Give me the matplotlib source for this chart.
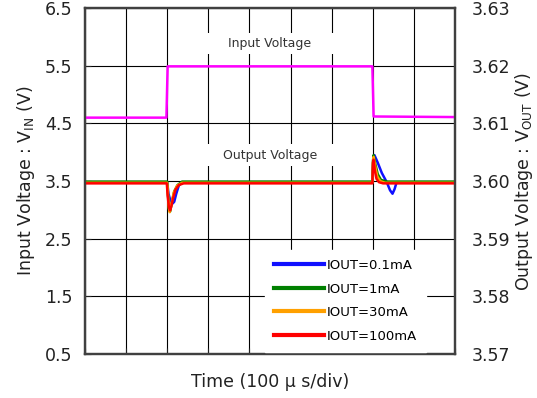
import matplotlib
matplotlib.use("Agg")
import matplotlib.pyplot as plt
from matplotlib.ticker import FormatStrFormatter

# time axis in microseconds (100 us/div, 9 divisions)
vin_t = [0, 198, 201, 699, 702, 900]
vin_v = [4.60, 4.60, 5.49, 5.49, 4.62, 4.61]

# output voltage traces (V), one per load current
blue_t = [0, 200, 203, 207, 213, 217, 222, 228, 236,
          699, 701, 704, 712, 722, 734, 742, 748, 753, 758, 900]
blue_v = [3.5998, 3.5998, 3.5978, 3.5968, 3.5961, 3.5964, 3.5978, 3.5992, 3.5998,
          3.5998, 3.6030, 3.6045, 3.6032, 3.6014, 3.5998, 3.5984, 3.5978, 3.5986, 3.5998, 3.5998]

green_t = [0, 200, 202, 205, 207, 211, 217, 225, 236,
           699, 700.5, 702, 706, 712, 720, 735, 900]
green_v = [3.5999, 3.5999, 3.5975, 3.5950, 3.5947, 3.5962, 3.5982, 3.5993, 3.5999,
           3.5999, 3.6035, 3.6045, 3.6030, 3.6012, 3.6002, 3.5999, 3.5999]

orange_t = [0, 200, 202, 204, 206, 210, 216, 224, 236,
            699, 700.5, 702, 706, 711, 718, 730, 900]
orange_v = [3.5997, 3.5997, 3.5975, 3.5952, 3.5946, 3.5960, 3.5980, 3.5992, 3.5997,
            3.5997, 3.6032, 3.6042, 3.6025, 3.6008, 3.6000, 3.5997, 3.5997]

red_t = [0, 199, 201, 204, 207, 210, 214, 220, 228, 240,
         699, 700.5, 702, 705, 709, 715, 725, 900]
red_v = [3.5996, 3.5996, 3.5975, 3.5955, 3.5949, 3.5956, 3.5970, 3.5985, 3.5993, 3.5996,
         3.5996, 3.6032, 3.6037, 3.6018, 3.6004, 3.5998, 3.5996, 3.5996]

labels = ["IOUT=0.1mA", "IOUT=1mA", "IOUT=30mA", "IOUT=100mA"]
colors = ["#1010ff", "#008000", "#ffa000", "#ff0000"]

fig = plt.figure(figsize=(5.37, 3.98), dpi=100)
ax = fig.add_axes([0.1583, 0.1106, 0.689, 0.869])
ax2 = ax.twinx()

ax.set_xlim(0, 900)
ax.set_ylim(0.5, 6.5)
ax.set_xticks(range(0, 901, 100))
ax.set_xticklabels([])
ax.set_yticks([0.5, 1.5, 2.5, 3.5, 4.5, 5.5, 6.5])
ax.yaxis.set_major_formatter(FormatStrFormatter("%.1f"))
ax.grid(True, color="black", linewidth=0.8)
ax.tick_params(direction="in", length=4, labelsize=12.5, pad=9, colors="#222222")

ax2.set_ylim(3.57, 3.63)
ax2.set_yticks([3.57, 3.58, 3.59, 3.60, 3.61, 3.62, 3.63])
ax2.yaxis.set_major_formatter(FormatStrFormatter("%.2f"))
ax2.tick_params(direction="in", length=0, labelsize=12.5, pad=12, colors="#222222")

for a in (ax, ax2):
    for s in a.spines.values():
        s.set_color("#404040")
        s.set_linewidth(1.6)

ax.plot(vin_t, vin_v, color="#ff00ff", linewidth=1.8, zorder=4)

series = [(blue_t, blue_v), (green_t, green_v), (orange_t, orange_v), (red_t, red_v)]
for (t, v), lab, c in zip(series, labels, colors):
    ax2.plot(t, v, color=c, linewidth=1.8, label=lab)

box = dict(facecolor="white", edgecolor="none", pad=3)
ax.text(450, 5.88, "     Input Voltage     ", ha="center", va="center",
        fontsize=9, color="#333333", bbox=box, zorder=3)
ax.text(450, 3.95, "     Output Voltage     ", ha="center", va="center",
        fontsize=9, color="#333333", bbox=box, zorder=3)

leg = ax2.legend(loc="lower left", bbox_to_anchor=(0.486, 0.006), borderaxespad=0,
                 frameon=True, fancybox=False, framealpha=1, edgecolor="white",
                 fontsize=9.5, handlelength=3.8, handletextpad=0.2, labelspacing=0.8,
                 borderpad=0.7)
for line in leg.get_lines():
    line.set_linewidth(3)
leg.set_zorder(10)

ax.set_ylabel(r"Input Voltage : V$_{\rm IN}$ (V)", fontsize=12.5, color="#222222", labelpad=6)
ax2.set_ylabel(r"Output Voltage : V$_{\rm OUT}$ (V)", fontsize=12.5, color="#222222", labelpad=2)
ax.set_xlabel("Time (100 μ s/div)", fontsize=12.5, color="#222222", labelpad=5)

fig.savefig("out.png", dpi=100)
